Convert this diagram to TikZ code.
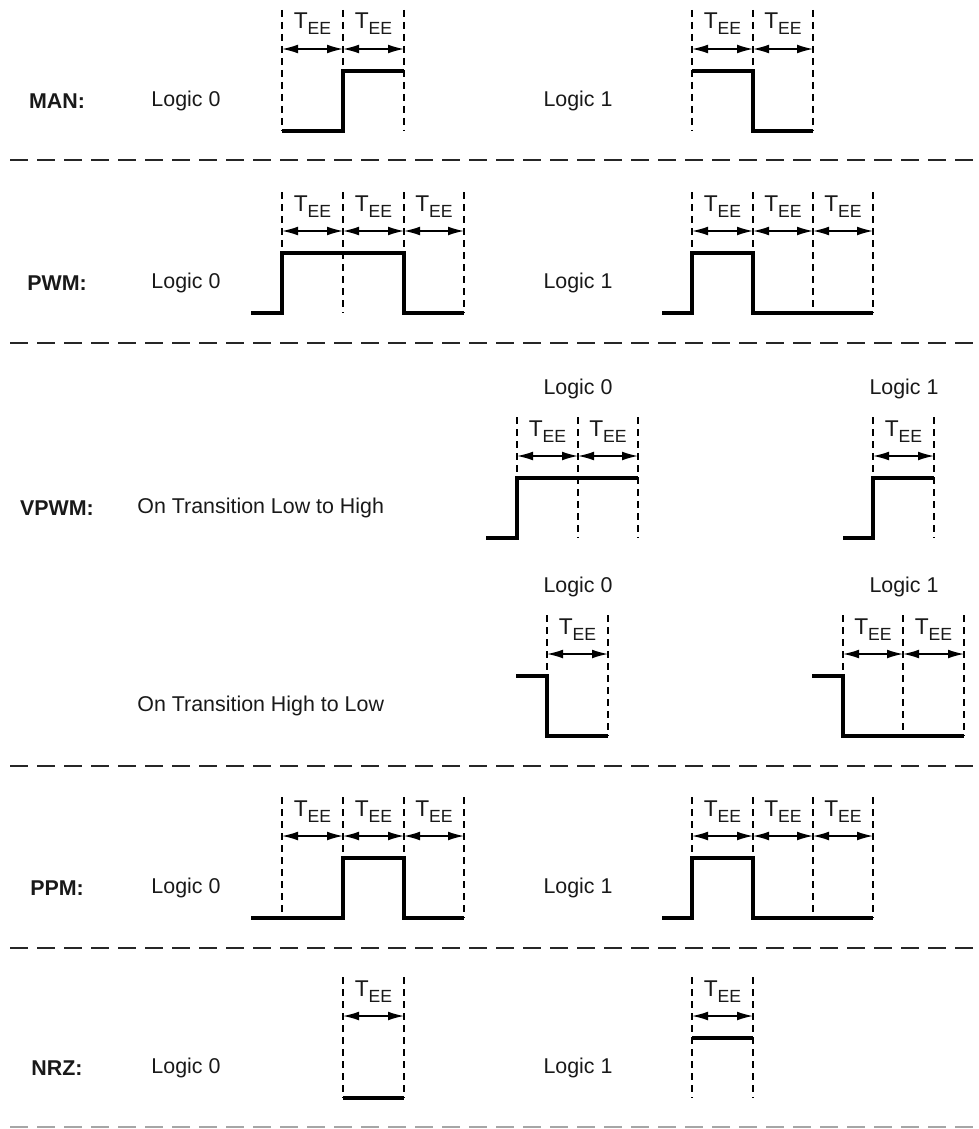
\documentclass[tikz,border=0pt]{standalone}
\usepackage{fontspec}
\setmainfont{Liberation Sans}
\usetikzlibrary{arrows.meta}

\newcommand{\tee}{{\fontsize{11.4}{12}\selectfont T}\raisebox{-3pt}{\fontsize{8.8}{9}\selectfont EE}}

\begin{document}
\begin{tikzpicture}[x=0.5pt, y=-0.5pt, font=\fontsize{10.7}{13}\selectfont, text=black!90]

%STYLES
\tikzstyle{wave}=[line width=1.6pt, line join=miter]
\tikzstyle{grid}=[line width=0.9pt, dash pattern=on 3.6pt off 2.4pt]
\tikzstyle{span}=[line width=0.7pt, {Latex[length=8pt,width=4.4pt]}-{Latex[length=8pt,width=4.4pt]}]
\tikzstyle{sep}=[line width=1pt, dash pattern=on 9pt off 4.5pt, black!85]
\tikzstyle{code}=[font=\fontsize{10.7}{13}\selectfont\bfseries]
\tikzstyle{tee}=[anchor=base, inner sep=0pt]

\useasboundingbox (0,0) rectangle (979,1129);

%MAN
\node[code] (man) at (57,101) {MAN:};
\node (man0) at (186,101) {Logic 0};
\node (man1) at (578,101) {Logic 1};
\foreach \x in {282,343,404,692,753,813}
	\draw[grid] (\x,10) -- (\x,131);
\foreach \xa/\xb [count=\i] in {282/343,343/404,692/753,753/813} {
	\draw[span] (\xa,49) -- (\xb,49);
	\node[tee] (mant\i) at ({(\xa+\xb)/2},29) {\tee};
}
\draw[wave] (282,131) -- (343,131) -- (343,71) -- (404,71);
\draw[wave] (692,71) -- (753,71) -- (753,131) -- (813,131);

\draw[sep] (10,160) -- (979,160);

%PWM
\node[code] (pwm) at (57,283) {PWM:};
\node (pwm0) at (186,283) {Logic 0};
\node (pwm1) at (578,283) {Logic 1};
\foreach \x in {282,343,404,464,692,753,813,873}
	\draw[grid] (\x,192) -- (\x,313);
\foreach \xa/\xb [count=\i] in {282/343,343/404,404/464,692/753,753/813,813/873} {
	\draw[span] (\xa,231) -- (\xb,231);
	\node[tee] (pwmt\i) at ({(\xa+\xb)/2},211) {\tee};
}
\draw[wave] (251,313) -- (282,313) -- (282,253) -- (404,253) -- (404,313) -- (464,313);
\draw[wave] (662,313) -- (692,313) -- (692,253) -- (753,253) -- (753,313) -- (873,313);

\draw[sep] (10,343) -- (979,343);

%VPWM
\node[code] (vpwm) at (57,508) {VPWM:};
\node[anchor=west, inner sep=0pt] (lowhigh) at (137,508) {On Transition Low to High};
\node[anchor=west, inner sep=0pt] (highlow) at (137,706) {On Transition High to Low};

%low to high
\node (lh0) at (578,389) {Logic 0};
\node (lh1) at (904,389) {Logic 1};
\foreach \x in {517,578,638,873,934}
	\draw[grid] (\x,417) -- (\x,538);
\foreach \xa/\xb [count=\i] in {517/578,578/638,873/934} {
	\draw[span] (\xa,456) -- (\xb,456);
	\node[tee] (lht\i) at ({(\xa+\xb)/2},436) {\tee};
}
\draw[wave] (486,538) -- (517,538) -- (517,478) -- (638,478);
\draw[wave] (843,538) -- (873,538) -- (873,478) -- (934,478);

%high to low
\node (hl0) at (578,587) {Logic 0};
\node (hl1) at (904,587) {Logic 1};
\foreach \x in {547,608,843,903,964}
	\draw[grid] (\x,615) -- (\x,736);
\foreach \xa/\xb [count=\i] in {547/608,843/903,903/964} {
	\draw[span] (\xa,654) -- (\xb,654);
	\node[tee] (hlt\i) at ({(\xa+\xb)/2},634) {\tee};
}
\draw[wave] (516,676) -- (547,676) -- (547,736) -- (608,736);
\draw[wave] (812,676) -- (843,676) -- (843,736) -- (964,736);

\draw[sep] (10,766) -- (979,766);

%PPM
\node[code] (ppm) at (57,888) {PPM:};
\node (ppm0) at (186,888) {Logic 0};
\node (ppm1) at (578,888) {Logic 1};
\foreach \x in {282,343,404,464,692,753,813,873}
	\draw[grid] (\x,797) -- (\x,918);
\foreach \xa/\xb [count=\i] in {282/343,343/404,404/464,692/753,753/813,813/873} {
	\draw[span] (\xa,836) -- (\xb,836);
	\node[tee] (ppmt\i) at ({(\xa+\xb)/2},816) {\tee};
}
\draw[wave] (251,918) -- (343,918) -- (343,858) -- (404,858) -- (404,918) -- (464,918);
\draw[wave] (662,918) -- (692,918) -- (692,858) -- (753,858) -- (753,918) -- (873,918);

\draw[sep] (10,948) -- (979,948);

%NRZ
\node[code] (nrz) at (57,1068) {NRZ:};
\node (nrz0) at (186,1068) {Logic 0};
\node (nrz1) at (578,1068) {Logic 1};
\foreach \x in {343,404,692,753}
	\draw[grid] (\x,977) -- (\x,1098);
\foreach \xa/\xb [count=\i] in {343/404,692/753} {
	\draw[span] (\xa,1016) -- (\xb,1016);
	\node[tee] (nrzt\i) at ({(\xa+\xb)/2},996) {\tee};
}
\draw[wave] (343,1098) -- (404,1098);
\draw[wave] (692,1038) -- (753,1038);

\draw[sep, black!35] (10,1127) -- (979,1127);

\end{tikzpicture}
\end{document}
